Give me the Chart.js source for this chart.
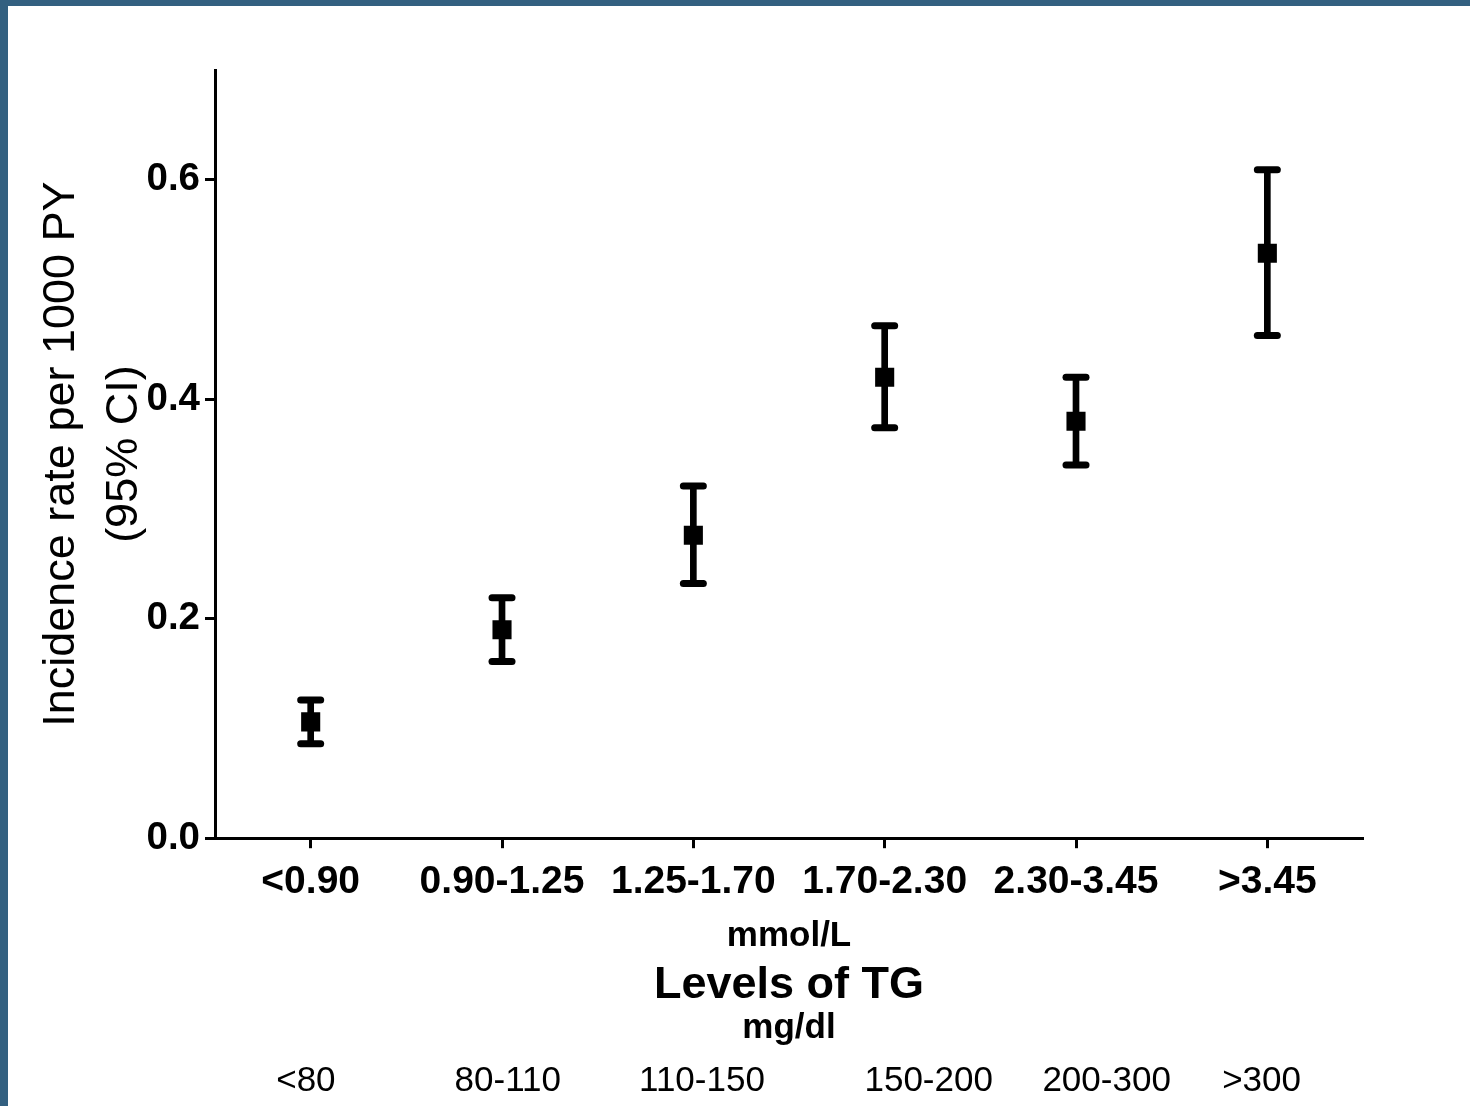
<!DOCTYPE html>
<html>
<head>
<meta charset="utf-8">
<script src="https://cdn.jsdelivr.net/npm/chart.js@4/dist/chart.umd.min.js"></script>
<style>
  html, body { margin: 0; padding: 0; }
  body { width: 1470px; height: 1106px; background: #336080; overflow: hidden; position: relative; }
  #wrap { position: absolute; left: 8px; top: 6px; width: 1462px; height: 1100px; background: #fff; }
</style>
</head>
<body>
<div id="wrap"><canvas id="tgChart"></canvas></div>
<script>
// categorías (mmol/L) y equivalencia en mg/dl
const mmolLabels = ['<0.90', '0.90-1.25', '1.25-1.70', '1.70-2.30', '2.30-3.45', '>3.45'];
const mgLabels = ['<80', '80-110', '110-150', '150-200', '200-300', '>300'];

// incidencia por 1000 PY con IC 95%
const incidence = [0.106, 0.190, 0.276, 0.420, 0.380, 0.533];
const ciLower = [0.086, 0.161, 0.232, 0.374, 0.340, 0.458];
const ciUpper = [0.126, 0.219, 0.321, 0.467, 0.420, 0.609];

const yTicks = [0, 0.2, 0.4, 0.6];

// los textos mg/dl no quedan justo bajo cada tick en el original (fracción de categoría)
const mgNudge = [-0.025, 0.03, 0.045, 0.23, 0.16, -0.03];

const FONT = '"Liberation Sans", Arial, sans-serif';

// extremos redondeados para las barras de error
const roundCaps = {
    id: 'roundCaps',
    beforeDatasetsDraw(chart) {
        chart.ctx.save();
        chart.ctx.lineCap = 'round';
    },
    afterDatasetsDraw(chart) {
        chart.ctx.restore();
    }
};

// textos bajo el eje x: unidades, título y rangos en mg/dl
const bottomTexts = {
    id: 'bottomTexts',
    afterDraw(chart) {
        const { ctx, chartArea } = chart;
        const xScale = chart.scales.x;
        const mid = (chartArea.left + chartArea.right) / 2;
        const base = chartArea.bottom;
        ctx.save();
        ctx.fillStyle = '#000';
        ctx.textAlign = 'center';
        ctx.textBaseline = 'alphabetic';
        ctx.font = 'bold 35px ' + FONT;
        ctx.fillText('mmol/L', mid, base + 108);
        ctx.font = 'bold 45px ' + FONT;
        ctx.fillText('Levels of TG', mid, base + 160);
        ctx.font = 'bold 35px ' + FONT;
        ctx.fillText('mg/dl', mid, base + 200);
        ctx.font = '35px ' + FONT;
        const step = xScale.getPixelForValue(1) - xScale.getPixelForValue(0);
        mgLabels.forEach((lbl, i) => {
            ctx.fillText(lbl, xScale.getPixelForValue(i) + mgNudge[i] * step, base + 253);
        });
        ctx.restore();
    }
};

const ctx = document.getElementById('tgChart').getContext('2d');
const tgChart = new Chart(ctx, {
    type: 'bar',
    data: {
        labels: mmolLabels,
        datasets: [
            {
                type: 'line',
                label: 'Incidence',
                data: incidence,
                showLine: false,
                pointStyle: 'rect',
                pointRadius: 13.5,
                pointBackgroundColor: '#000',
                pointBorderWidth: 0
            },
            {
                type: 'line',
                label: 'Upper',
                data: ciUpper,
                showLine: false,
                pointStyle: 'line',
                pointRadius: 10,
                pointBorderWidth: 7,
                pointBorderColor: '#000'
            },
            {
                type: 'line',
                label: 'Lower',
                data: ciLower,
                showLine: false,
                pointStyle: 'line',
                pointRadius: 10,
                pointBorderWidth: 7,
                pointBorderColor: '#000'
            },
            {
                label: 'CI',
                data: ciLower.map((lo, i) => [lo, ciUpper[i]]),
                backgroundColor: '#000',
                borderWidth: 0,
                barThickness: 6
            }
        ]
    },
    options: {
        responsive: true,
        maintainAspectRatio: false,
        animation: false,
        layout: {
            padding: { left: 18, right: 107, top: 64, bottom: 189 }
        },
        plugins: {
            legend: { display: false },
            tooltip: { enabled: false }
        },
        scales: {
            x: {
                offset: true,
                grid: {
                    offset: false,
                    drawOnChartArea: false,
                    drawTicks: true,
                    tickLength: 10,
                    tickWidth: 3,
                    tickColor: '#000'
                },
                border: { display: true, width: 3, color: '#000' },
                ticks: {
                    color: '#000',
                    padding: 11,
                    maxRotation: 0,
                    autoSkip: false,
                    font: { family: FONT, size: 39, weight: 'bold' }
                }
            },
            y: {
                min: 0,
                max: 0.7,
                afterBuildTicks: (scale) => {
                    scale.ticks = yTicks.map(v => ({ value: v }));
                },
                grid: {
                    drawOnChartArea: false,
                    drawTicks: true,
                    tickLength: 10,
                    tickWidth: 3,
                    tickColor: '#000'
                },
                border: { display: true, width: 3, color: '#000' },
                ticks: {
                    color: '#000',
                    padding: 5,
                    font: { family: FONT, size: 38.5, weight: 'bold' },
                    callback: (v) => Number(v).toFixed(1)
                },
                title: {
                    display: true,
                    text: ['Incidence rate per 1000 PY', '(95% CI)'],
                    color: '#000',
                    padding: { top: 4, bottom: -14.5 },
                    font: { family: FONT, size: 45, lineHeight: 1.4 }
                }
            }
        }
    },
    plugins: [roundCaps, bottomTexts]
});
</script>
</body>
</html>
